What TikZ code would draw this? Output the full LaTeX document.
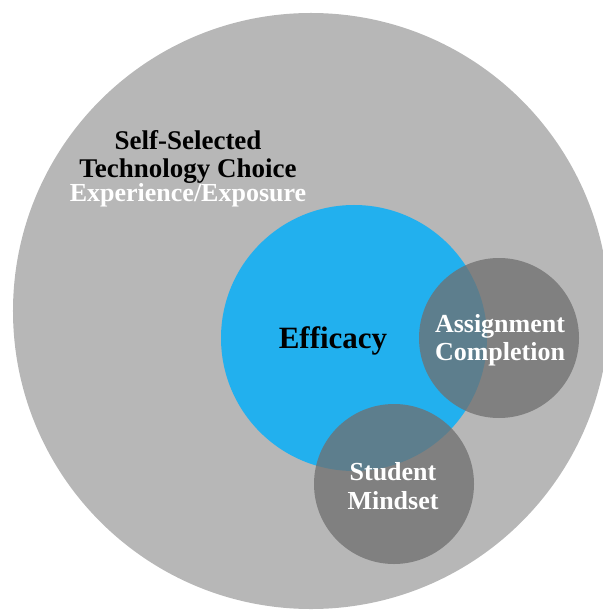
\documentclass[tikz,border=0pt]{standalone}
\usepackage{fontspec}
\setmainfont{Liberation Serif}
\definecolor{biggray}{RGB}{183,183,183}
\definecolor{effblue}{RGB}{34,176,238}
\definecolor{dark}{RGB}{112,112,112}
\begin{document}
\begin{tikzpicture}[x=1bp,y=-1bp,
  disc/.style={circle,inner sep=0pt,draw=none},
  lbl/.style={font=\bfseries\fontsize{26bp}{28.5bp}\selectfont,align=center,inner sep=0pt}]
\useasboundingbox (0,0) rectangle (603,610);
\clip (0,0) rectangle (603,610);
\node[disc,fill=biggray,minimum size=596bp] (big) at (311,311) {};
\node[disc,fill=effblue,minimum size=266bp] (eff) at (354,338) {};
\node[disc,fill=dark,fill opacity=0.77,minimum size=160bp] (asg) at (499,338) {};
\node[disc,fill=dark,fill opacity=0.77,minimum size=160bp] (stu) at (394,484) {};
\node[lbl,text=black,font=\bfseries\fontsize{27bp}{28.5bp}\selectfont] (t1) at (188,157) {Self-Selected\\Technology Choice};
\node[lbl,text=white] (t2) at (188,195) {Experience/Exposure};
\node[lbl,text=black,font=\bfseries\fontsize{31bp}{33bp}\selectfont] (t3) at (333,341) {Efficacy};
\node[lbl,text=white] (t4) at (500,340) {Assignment\\Completion};
\node[lbl,text=white] (t5) at (393,486) {Student\\Mindset};
\end{tikzpicture}
\end{document}
